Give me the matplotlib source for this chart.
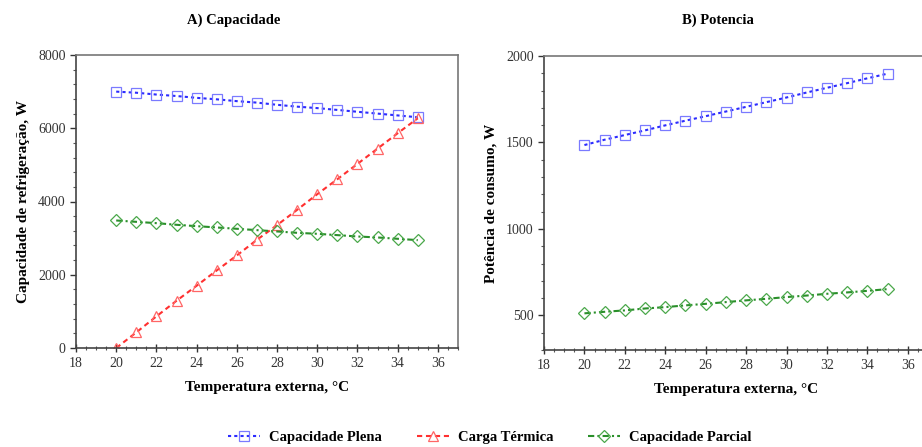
import matplotlib
matplotlib.use("Agg")
import matplotlib.pyplot as plt
from matplotlib.ticker import MultipleLocator

plt.rcParams['font.family'] = ['Liberation Serif', 'DejaVu Serif']

temp = list(range(20, 36))

cap_plena = [7000, 6970, 6920, 6880, 6830, 6790, 6740, 6700, 6640, 6590, 6550, 6500, 6450, 6400, 6350, 6300]
carga_termica = [0, 427, 864, 1290, 1700, 2118, 2527, 2955, 3355, 3773, 4200, 4609, 5027, 5445, 5864, 6273]
cap_parcial = [3482, 3445, 3409, 3364, 3327, 3291, 3255, 3218, 3182, 3145, 3118, 3082, 3045, 3018, 2982, 2945]

pot_plena = [1485, 1516, 1543, 1570, 1599, 1626, 1652, 1679, 1706, 1733, 1760, 1789, 1816, 1843, 1871, 1898]
pot_parcial = [512, 521, 529, 540, 548, 558, 567, 577, 587, 596, 606, 615, 625, 633, 642, 652]

labels = ['Capacidade Plena', 'Carga Térmica', 'Capacidade Parcial']
blue_line, blue_mk = '#2b2bff', '#7a7aff'
red_line, red_mk = '#ff3030', '#ff6666'
green_line, green_mk = '#2a8f2a', '#4aa84a'

W, H = 922, 447
fig = plt.figure(figsize=(W / 100, H / 100), dpi=100)

def px_axes(x0, x1, y0, y1):
    return fig.add_axes([x0 / W, 1 - y1 / H, (x1 - x0) / W, (y1 - y0) / H])

ax1 = px_axes(76, 458, 55, 348)
ax2 = px_axes(544, 928, 56, 350)

mk_kw = dict(markersize=6.5, markerfacecolor='none', markeredgewidth=0.9, linewidth=1.5)
dk_kw = dict(markersize=6, markerfacecolor='none', markeredgewidth=0.9, linewidth=1.5)

h1, = ax1.plot(temp, cap_plena, linestyle=(0, (1.5, 1.5)), color=blue_line, marker='s',
               markeredgecolor=blue_mk, label=labels[0], **mk_kw)
h2, = ax1.plot(temp, carga_termica, linestyle=(0, (2.5, 1.8)), color=red_line, marker='^',
               markeredgecolor=red_mk, label=labels[1], **mk_kw)
h3, = ax1.plot(temp, cap_parcial, linestyle=(0, (3, 1.5, 1, 1.5)), color=green_line, marker='D',
               markeredgecolor=green_mk, label=labels[2], **dk_kw)

ax2.plot(temp, pot_plena, linestyle=(0, (1.5, 1.5)), color=blue_line, marker='s',
         markeredgecolor=blue_mk, **mk_kw)
ax2.plot(temp, pot_parcial, linestyle=(0, (3, 1.5, 1, 1.5)), color=green_line, marker='D',
         markeredgecolor=green_mk, **dk_kw)

ax1.set_xlim(18, 37)
ax1.set_ylim(0, 8000)
ax1.yaxis.set_major_locator(MultipleLocator(2000))
ax1.yaxis.set_minor_locator(MultipleLocator(400))
ax2.set_xlim(18, 37)
ax2.set_ylim(300, 2000)
ax2.yaxis.set_major_locator(MultipleLocator(500))
ax2.yaxis.set_minor_locator(MultipleLocator(100))

for ax in (ax1, ax2):
    ax.xaxis.set_major_locator(MultipleLocator(2))
    ax.xaxis.set_minor_locator(MultipleLocator(0.5))
    ax.tick_params(axis='y', which='major', direction='out', length=4, width=1, labelsize=10, colors='#333333')
    ax.tick_params(axis='y', which='minor', direction='out', length=2, width=0.8, colors='#555555')
    ax.tick_params(axis='x', which='major', direction='inout', length=6, width=1, labelsize=10, colors='#333333')
    ax.tick_params(axis='x', which='minor', direction='inout', length=3, width=0.8, colors='#555555')
    for s in ('left', 'bottom'):
        ax.spines[s].set_color('#444444')
        ax.spines[s].set_linewidth(1.2)
    for s in ('top', 'right'):
        ax.spines[s].set_color('#777777')
        ax.spines[s].set_linewidth(1.2)
    ax.set_xlabel('Temperatura externa, °C', fontsize=11, fontweight='bold', labelpad=8)

ax1.set_ylabel('Capacidade de refrigeração, W', fontsize=11, fontweight='bold', labelpad=6)
ax2.set_ylabel('Potência de consumo, W', fontsize=11, fontweight='bold', labelpad=6)

fig.text(234 / W, 1 - 20 / H, 'A) Capacidade', ha='center', va='center', fontsize=10.5, fontweight='bold')
fig.text(718 / W, 1 - 20 / H, 'B) Potencia', ha='center', va='center', fontsize=10.5, fontweight='bold')

fig.legend(handles=[h1, h2, h3], labels=labels, loc='center', bbox_to_anchor=(490 / W, 1 - 437 / H),
           ncol=3, frameon=False, handlelength=2.2, columnspacing=2.4,
           handletextpad=0.6, prop={'weight': 'bold', 'size': 10.5})

fig.savefig('out.png', dpi=100)
